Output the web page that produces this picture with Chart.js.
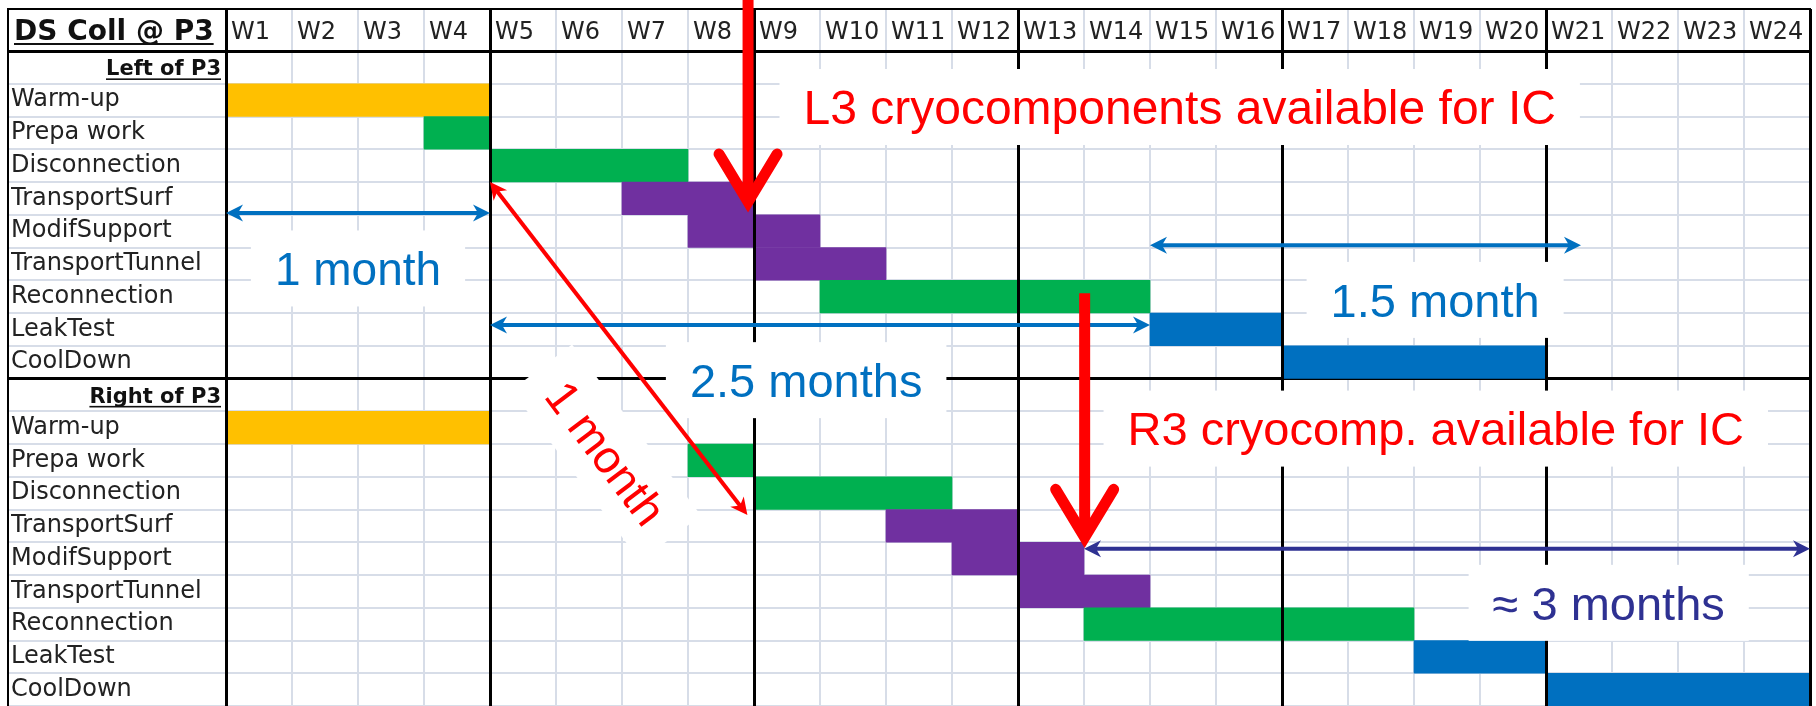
<!DOCTYPE html>
<html>
<head>
<meta charset="utf-8">
<script src="https://cdn.jsdelivr.net/npm/chart.js@4"></script>
<style>
  html, body { margin: 0; padding: 0; background: #fff; }
  #wrap { width: 1816px; height: 706px; }
</style>
</head>
<body>
<div id="wrap"><canvas id="gantt" width="1816" height="706"></canvas></div>
<script>
// weeks on the x axis
const weeks = ['W1', 'W2', 'W3', 'W4', 'W5', 'W6', 'W7', 'W8', 'W9', 'W10', 'W11', 'W12',
  'W13', 'W14', 'W15', 'W16', 'W17', 'W18', 'W19', 'W20', 'W21', 'W22', 'W23', 'W24'];

const sections = ['Left of P3', 'Right of P3'];
const tasks = ['Warm-up', 'Prepa work', 'Disconnection', 'TransportSurf', 'ModifSupport',
  'TransportTunnel', 'Reconnection', 'LeakTest', 'CoolDown'];
const taskColors = ['#FFC000', '#00B050', '#00B050', '#7030A0', '#7030A0',
  '#7030A0', '#00B050', '#0070C0', '#0070C0'];

// start / end in weeks (0 = start of W1)
const leftStart = [0, 3, 4, 6, 7, 8, 9, 14, 16];
const leftEnd = [4, 4, 7, 8, 9, 10, 14, 16, 20];
const rightStart = [0, 7, 8, 10, 11, 12, 13, 18, 20];
const rightEnd = [4, 8, 11, 12, 13, 14, 18, 20, 24];

const rowLabels = [];
const bars = [];
const barColors = [];
sections.forEach((s, k) => {
  const st = k === 0 ? leftStart : rightStart;
  const en = k === 0 ? leftEnd : rightEnd;
  rowLabels.push(s);
  bars.push(null);
  barColors.push('rgba(0,0,0,0)');
  tasks.forEach((t, i) => {
    rowLabels.push(t);
    bars.push([st[i], en[i]]);
    barColors.push(taskColors[i]);
  });
});

// annotations: x in weeks, y in rows from the top of the grid
const notes = [
  { text: 'L3 cryocomponents available for IC', x: 14.45, y: 1.71, color: '#FF0000', size: 48 },
  { text: '1 month', x: 2.0, y: 6.64, color: '#0070C0', size: 46 },
  { text: '2.5 months', x: 8.79, y: 10.05, color: '#0070C0', size: 47 },
  { text: '1.5 month', x: 18.32, y: 7.6, color: '#0070C0', size: 47 },
  { text: 'R3 cryocomp. available for IC', x: 18.33, y: 11.53, color: '#FF0000', size: 47 },
  { text: '≈ 3 months', x: 20.95, y: 16.85, color: '#2E3192', size: 47 },
  { text: '1 month', x: 5.76, y: 12.27, color: '#FF0000', size: 46, angle: 53 },
];
const spans = [
  { x1: 0, y1: 4.95, x2: 4, y2: 4.95, color: '#0070C0' },
  { x1: 4, y1: 8.37, x2: 14, y2: 8.37, color: '#0070C0' },
  { x1: 14, y1: 5.93, x2: 20.53, y2: 5.93, color: '#0070C0' },
  { x1: 13, y1: 15.2, x2: 24, y2: 15.2, color: '#2E3192' },
  { x1: 4, y1: 4.0, x2: 7.9, y2: 14.17, color: '#FF0000' },
];
const pointers = [
  { x: 7.91, y1: -2, y2: 4.61 },
  { x: 13.01, y1: 7.4, y2: 14.85 },
];

const textFont = '"DejaVu Sans", sans-serif';
const noteFont = '"Liberation Sans", Arial, sans-serif';
const isMonth = (c) => c.tick && c.tick.value % 4 === 0;
const isSplit = (c) => c.index === 0 || c.index === 10;

function head(ctx, x, y, ux, uy) {
  const L = 17, W = 8.5, N = 5;
  ctx.beginPath();
  ctx.moveTo(x, y);
  ctx.lineTo(x - ux * L - uy * W, y - uy * L + ux * W);
  ctx.lineTo(x - ux * (L - N), y - uy * (L - N));
  ctx.lineTo(x - ux * L + uy * W, y - uy * L - ux * W);
  ctx.closePath();
  ctx.fill();
}

const annotate = {
  id: 'annotate',
  afterDraw(chart) {
    const ctx = chart.ctx;
    const xs = chart.scales.x;
    const ys = chart.scales.y;
    const px = (v) => xs.getPixelForValue(v);
    const py = (r) => ys.getPixelForValue(r - 0.5);
    ctx.save();

    // outer border of the sheet
    ctx.strokeStyle = '#000';
    ctx.lineWidth = 2;
    ctx.beginPath();
    ctx.moveTo(8, chart.chartArea.bottom);
    ctx.lineTo(8, 9);
    ctx.lineTo(xs.right + 1, 9);
    ctx.stroke();

    // title cell
    ctx.fillStyle = '#111';
    ctx.font = 'bold 28px ' + textFont;
    ctx.textBaseline = 'alphabetic';
    ctx.textAlign = 'left';
    const tw = ctx.measureText('DS Coll @ P3').width;
    ctx.fillText('DS Coll @ P3', 14, 40);
    ctx.fillRect(14, 43, tw, 2);

    // section headers
    ctx.font = 'bold 21px ' + textFont;
    ctx.textAlign = 'right';
    rowLabels.forEach((lab, i) => {
      if (!sections.includes(lab)) return;
      const y = ys.getPixelForValue(i) + 8;
      const w = ctx.measureText(lab).width;
      ctx.fillText(lab, 221, y);
      ctx.fillRect(221 - w, y + 3, w, 1.6);
    });

    // white boxes behind the notes
    notes.forEach((n) => {
      ctx.font = n.size + 'px ' + noteFont;
      const w = ctx.measureText(n.text).width + 48;
      const h = 76;
      ctx.save();
      ctx.translate(px(n.x), py(n.y));
      ctx.rotate(((n.angle || 0) * Math.PI) / 180);
      ctx.fillStyle = '#fff';
      ctx.fillRect(-w / 2, -h / 2, w, h);
      ctx.restore();
    });

    // thin double arrows
    spans.forEach((a) => {
      const x1 = px(a.x1), y1 = py(a.y1), x2 = px(a.x2), y2 = py(a.y2);
      const len = Math.hypot(x2 - x1, y2 - y1);
      const ux = (x2 - x1) / len, uy = (y2 - y1) / len;
      ctx.strokeStyle = a.color;
      ctx.fillStyle = a.color;
      ctx.lineWidth = 4;
      ctx.lineCap = 'butt';
      ctx.beginPath();
      ctx.moveTo(x1 + ux * 10, y1 + uy * 10);
      ctx.lineTo(x2 - ux * 10, y2 - uy * 10);
      ctx.stroke();
      head(ctx, x2, y2, ux, uy);
      head(ctx, x1, y1, -ux, -uy);
    });

    // big red pointers
    pointers.forEach((p) => {
      const x = px(p.x), y1 = py(p.y1), y2 = py(p.y2);
      ctx.strokeStyle = '#FF0000';
      ctx.lineWidth = 11;
      ctx.lineCap = 'butt';
      ctx.beginPath();
      ctx.moveTo(x, y1);
      ctx.lineTo(x, y2 - 6);
      ctx.stroke();
      ctx.lineCap = 'round';
      ctx.lineJoin = 'miter';
      ctx.miterLimit = 10;
      ctx.beginPath();
      ctx.moveTo(x - 29, y2 - 48);
      ctx.lineTo(x, y2);
      ctx.lineTo(x + 29, y2 - 48);
      ctx.stroke();
    });

    // note texts
    notes.forEach((n) => {
      ctx.save();
      ctx.translate(px(n.x), py(n.y));
      ctx.rotate(((n.angle || 0) * Math.PI) / 180);
      ctx.font = n.size + 'px ' + noteFont;
      ctx.fillStyle = n.color;
      ctx.textAlign = 'center';
      ctx.textBaseline = 'alphabetic';
      ctx.fillText(n.text, 0, n.size * 0.358);
      ctx.restore();
    });

    ctx.restore();
  },
};

new Chart(document.getElementById('gantt'), {
  type: 'bar',
  data: {
    labels: rowLabels,
    datasets: [{
      data: bars,
      backgroundColor: barColors,
      borderWidth: 0,
      barPercentage: 1,
      categoryPercentage: 1,
    }],
  },
  options: {
    indexAxis: 'y',
    responsive: false,
    animation: false,
    layout: { padding: { left: 11, top: 9, right: 6, bottom: 0 } },
    plugins: { legend: { display: false }, tooltip: { enabled: false } },
    scales: {
      x: {
        type: 'linear',
        position: 'top',
        min: 0,
        max: 24,
        ticks: {
          stepSize: 1,
          autoSkip: false,
          maxRotation: 0,
          align: 'start',
          labelOffset: 5,
          padding: -38,
          color: '#222',
          font: { family: textFont, size: 24 },
          callback: (v) => weeks[v] || '',
        },
        grid: {
          color: (c) => (isMonth(c) ? '#000' : '#D7DDE8'),
          lineWidth: (c) => (isMonth(c) ? 3 : 2),
          tickColor: (c) => (isMonth(c) ? '#000' : '#D7DDE8'),
          tickWidth: (c) => (isMonth(c) ? 3 : 2),
          tickLength: 42,
        },
        border: { display: true, color: '#000', width: 3 },
        afterFit: (s) => { s.height = 42; s.paddingLeft = 0; s.paddingRight = 0; },
      },
      months: {
        type: 'linear',
        position: 'bottom',
        min: 0,
        max: 24,
        ticks: { display: false, stepSize: 4 },
        grid: { z: 1, color: '#000', lineWidth: 3, drawTicks: false },
        border: { display: false },
        afterFit: (s) => { s.height = 0; },
      },
      y: {
        type: 'category',
        position: 'left',
        ticks: {
          crossAlign: 'far',
          autoSkip: false,
          color: '#222',
          font: { family: textFont, size: 24 },
          callback: (v, i) => (sections.includes(rowLabels[i]) ? '' : rowLabels[i]),
        },
        grid: {
          color: (c) => (isSplit(c) ? '#000' : '#D7DDE8'),
          lineWidth: (c) => (isSplit(c) ? 3 : 2),
          tickColor: (c) => (isSplit(c) ? '#000' : '#D7DDE8'),
          tickWidth: (c) => (isSplit(c) ? 3 : 2),
          tickLength: 218,
        },
        border: { color: '#000', width: 3 },
        afterFit: (s) => { s.width = 215; s.paddingTop = 0; s.paddingBottom = 0; },
      },
    },
  },
  plugins: [annotate],
});
</script>
</body>
</html>
